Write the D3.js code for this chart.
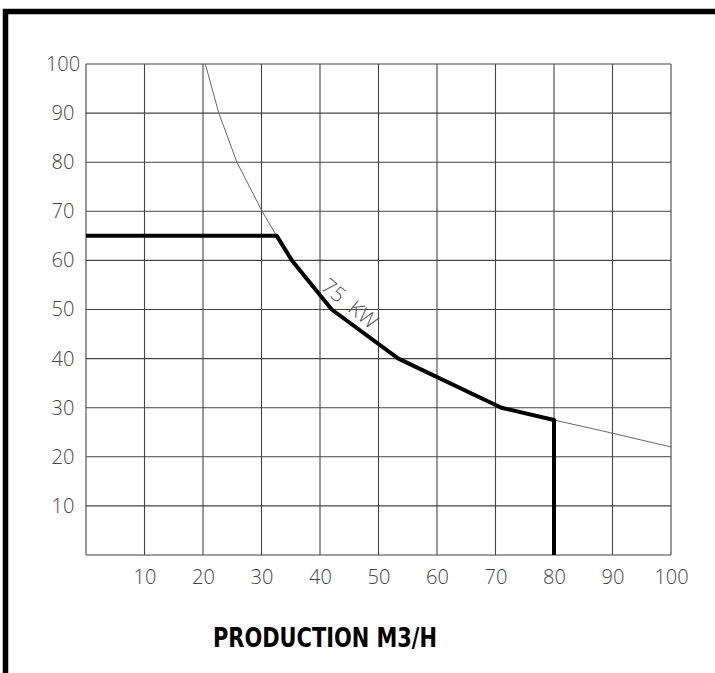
<!DOCTYPE html>
<html>
<head>
<meta charset="utf-8">
<script src="https://cdn.jsdelivr.net/npm/d3@7"></script>
<style>
  body { margin: 0; background: #fff; }
  svg { display: block; }
</style>
</head>
<body>
<div class="chart"></div>
<script>
// ticks
const xTicks = [10, 20, 30, 40, 50, 60, 70, 80, 90, 100];
const yTicks = [10, 20, 30, 40, 50, 60, 70, 80, 90, 100];

// thin 75 kW power curve (production, pressure)
const powerQ = [20.4, 22.7, 25.8, 30.1, 32.6, 35.2, 42, 53.4, 71, 80, 90, 100];
const powerP = [100, 90, 80, 70, 65, 60, 50, 40, 30, 27.5, 24.8, 22];

// thick operating limit
const limitQ = [0, 32.6, 35.2, 42, 53.4, 71, 80, 80];
const limitP = [65, 65, 60, 50, 40, 30, 27.5, 0];

const curveLabel = "75 KW";
const xTitle = "PRODUCTION M3/H";

const width = 715;
const height = 673;
const margin = {top: 64, right: 44, bottom: 118, left: 86};
const tickFont = "'Open Sans', 'Liberation Sans', sans-serif";

const svg = d3.select(".chart")
    .append("svg")
    .attr("width", width)
    .attr("height", height)
    .attr("viewBox", [0, 0, width, height]);

const x = d3.scaleLinear().domain([0, 100]).range([margin.left, width - margin.right]);
const y = d3.scaleLinear().domain([0, 100]).range([height - margin.bottom, margin.top]);

// outer frame (top + left only visible)
svg.append("path")
    .attr("d", `M5.5,${height} L5.5,11.5 L${width},11.5`)
    .attr("fill", "none")
    .attr("stroke", "#000")
    .attr("stroke-width", 5.5);

// grid
const grid = svg.append("g").attr("stroke", "#444").attr("stroke-width", 1.1);
grid.selectAll(".vx")
    .data(xTicks)
    .join("line")
    .attr("x1", d => x(d)).attr("x2", d => x(d))
    .attr("y1", y(0)).attr("y2", y(100));
grid.selectAll(".hy")
    .data(yTicks)
    .join("line")
    .attr("class", "hy")
    .attr("x1", x(0)).attr("x2", x(100))
    .attr("y1", d => y(d)).attr("y2", d => y(d));
grid.append("line")
    .attr("x1", x(0)).attr("x2", x(0))
    .attr("y1", y(0)).attr("y2", y(100));
grid.append("line")
    .attr("x1", x(0)).attr("x2", x(100))
    .attr("y1", y(0)).attr("y2", y(0));

// axes (labels only, the CAD style has no tick marks)
const xAxis = d3.axisBottom(x).tickValues(xTicks).tickSize(0).tickPadding(15);
const yAxis = d3.axisLeft(y).tickValues(yTicks).tickSize(0).tickPadding(0);

svg.append("g")
    .attr("transform", `translate(0,${y(0)})`)
    .call(xAxis)
    .call(g => g.select(".domain").remove());
svg.append("g")
    .attr("class", "yaxis")
    .attr("transform", `translate(${x(0)},0)`)
    .call(yAxis)
    .call(g => g.select(".domain").remove());

// y labels are centred in the left margin
svg.selectAll(".yaxis .tick text")
    .attr("x", -23)
    .attr("text-anchor", "middle");

svg.selectAll(".tick text")
    .attr("font-family", tickFont)
    .attr("font-weight", 300)
    .attr("font-size", 20)
    .attr("fill", "#444");

// power curve
const line = d3.line().x(d => x(d[0])).y(d => y(d[1]));

svg.append("path")
    .datum(d3.zip(powerQ, powerP))
    .attr("d", line)
    .attr("fill", "none")
    .attr("stroke", "#666")
    .attr("stroke-width", 1);

svg.append("path")
    .datum(d3.zip(limitQ, limitP))
    .attr("d", line)
    .attr("fill", "none")
    .attr("stroke", "#000")
    .attr("stroke-width", 4)
    .attr("stroke-linejoin", "round");

// curve label
svg.append("text")
    .attr("transform", `translate(${x(45.1)},${y(51.2)}) rotate(39)`)
    .attr("text-anchor", "middle")
    .attr("dy", "0.35em")
    .attr("font-family", tickFont)
    .attr("font-weight", 300)
    .attr("font-size", 21)
    .attr("fill", "#555")
    .attr("xml:space", "preserve")
    .text(curveLabel.replace(" ", "  "));

// x title
svg.append("text")
    .attr("x", 325)
    .attr("y", 647)
    .attr("text-anchor", "middle")
    .attr("font-family", "'DejaVu Sans Condensed', 'DejaVu Sans', sans-serif")
    .attr("font-weight", "bold")
    .attr("font-size", 26)
    .attr("textLength", 224)
    .attr("lengthAdjust", "spacingAndGlyphs")
    .attr("fill", "#000")
    .text(xTitle);
</script>
</body>
</html>
